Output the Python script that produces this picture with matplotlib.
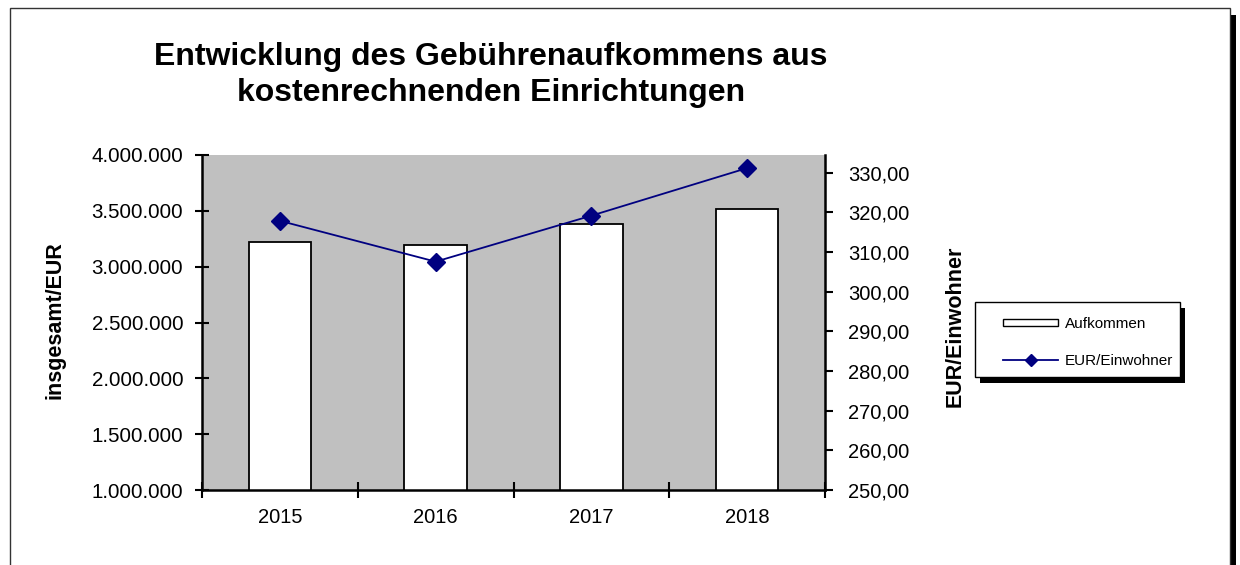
import matplotlib.pyplot as plt
from matplotlib.lines import Line2D
from matplotlib.patches import Rectangle
from matplotlib.ticker import FixedLocator, FuncFormatter

plt.rcParams["font.family"] = ["Liberation Sans", "DejaVu Sans"]

years = ["2015", "2016", "2017", "2018"]
aufkommen = [3223000, 3193000, 3383000, 3515000]
eur_einwohner = [317.9, 307.6, 319.2, 331.2]

W, H = 1240, 565


def fx(px):
    return px / W


def fy(py):
    return 1 - py / H


def box(x0, y0, x1, y1, **kw):
    # rectangle given in pixel coordinates (top-left origin)
    return Rectangle((fx(x0), fy(y1)), fx(x1) - fx(x0), fy(y0) - fy(y1),
                     transform=plt.gcf().transFigure, **kw)


def de_int(v, pos):
    return f"{int(round(v)):,}".replace(",", ".")


def de_dec(v, pos):
    return f"{v:.2f}".replace(".", ",")


def main() -> None:
    fig = plt.figure(figsize=(W / 100, H / 100), dpi=100)

    # outer chart frame with shadow
    fig.patches.append(box(1230, 15, 1236, 570, facecolor="black",
                           edgecolor="none", zorder=-3))
    fig.patches.append(box(10, 8, 1230, 575, facecolor="white",
                           edgecolor="#333333", linewidth=1, zorder=-2))

    ax = fig.add_axes([fx(202), fy(490), fx(825) - fx(202), fy(155) - fy(490)])
    ax.set_facecolor("#c0c0c0")
    x = list(range(len(years)))
    ax.bar(x, aufkommen, width=0.4, color="white", edgecolor="black",
           linewidth=1.3, zorder=2)
    ax.set_xlim(-0.5, len(years) - 0.5)
    ax.set_ylim(1000000, 4000000)
    ax.yaxis.set_major_locator(FixedLocator(range(1000000, 4000001, 500000)))
    ax.yaxis.set_major_formatter(FuncFormatter(de_int))
    ax.set_xticks(x)
    ax.set_xticklabels(years)
    ax.set_xticks([i + 0.5 for i in range(-1, len(years))], minor=True)
    ax.tick_params(axis="x", which="major", length=0, labelsize=14.5, pad=13)
    ax.tick_params(axis="x", which="minor", direction="inout", length=12, width=1.5)
    ax.tick_params(axis="y", direction="inout", length=10, width=1.5,
                   labelsize=14.8, pad=8.5)
    for side in ["left", "bottom"]:
        ax.spines[side].set_linewidth(1.8)
    for side in ["top", "right"]:
        ax.spines[side].set_visible(False)

    ax2 = ax.twinx()
    ax2.plot(x, eur_einwohner, color="#000080", linewidth=1.3, marker="D",
             markersize=9, zorder=3)
    ax2.set_ylim(250, 334.5)
    ax2.yaxis.set_major_locator(FixedLocator(range(250, 331, 10)))
    ax2.yaxis.set_major_formatter(FuncFormatter(de_dec))
    ax2.tick_params(axis="y", direction="out", length=6, width=1.5,
                    labelsize=14.5, pad=10.5)
    ax2.spines["right"].set_linewidth(1.8)
    for side in ["top", "left", "bottom"]:
        ax2.spines[side].set_visible(False)

    fig.text(fx(491), fy(75), "Entwicklung des Gebührenaufkommens aus\nkostenrechnenden Einrichtungen",
             ha="center", va="center", fontsize=23, fontweight="bold",
             linespacing=1.28)
    fig.text(fx(55), fy(320), "insgesamt/EUR", rotation=90, ha="center",
             va="center", fontsize=15.5, fontweight="bold")
    fig.text(fx(955), fy(326), "EUR/Einwohner", rotation=90, ha="center",
             va="center", fontsize=15.5, fontweight="bold")

    # legend frame with solid shadow
    fig.patches.append(box(980, 308, 1185, 383, facecolor="black",
                           edgecolor="none", zorder=1))
    fig.patches.append(box(975, 302, 1180, 377, facecolor="white",
                           edgecolor="black", linewidth=1, zorder=2))

    handles = [
        Rectangle((0, 0), 1, 1, facecolor="white", edgecolor="black", linewidth=1),
        Line2D([], [], color="#000080", linewidth=1.3, marker="D", markersize=6),
    ]
    leg = fig.legend(handles, ["Aufkommen", "EUR/Einwohner"],
                     loc="upper left", bbox_to_anchor=(fx(1003), fy(317)),
                     fontsize=11, frameon=False, borderpad=0,
                     labelspacing=1.5, handlelength=3.6, handleheight=0.4,
                     handletextpad=0.45, borderaxespad=0)
    leg.set_zorder(3)

    fig.savefig("out.png", dpi=100)
    plt.close(fig)


if __name__ == "__main__":
    main()
